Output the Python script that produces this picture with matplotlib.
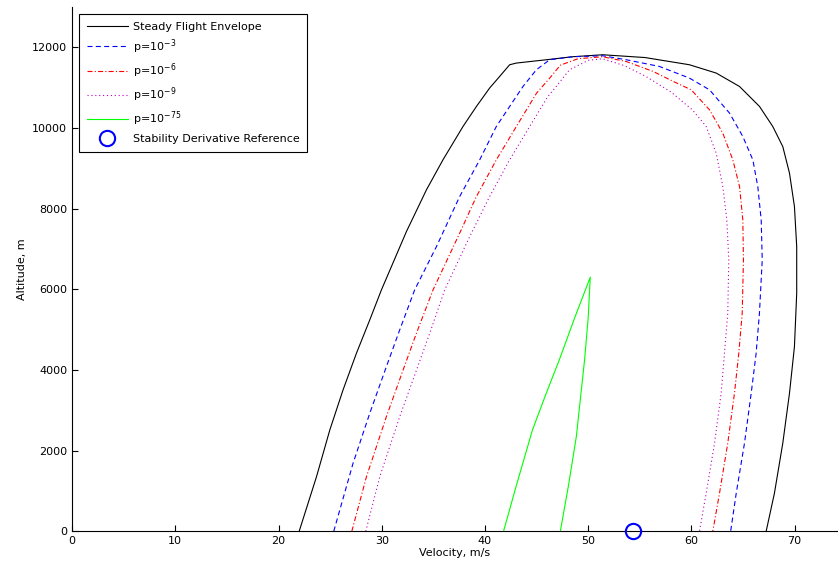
import numpy as np
import matplotlib.pyplot as plt

# Steady flight envelope (velocity m/s, altitude m)
env_v = [22.0, 23.68, 24.97, 26.25, 27.55, 28.84, 29.97, 32.39, 34.33, 35.93, 37.87, 39.17,
         40.45, 41.42, 42.39, 43.04, 45.94, 48.5, 51.4, 55.5, 59.81, 62.4, 64.66, 66.6, 67.88,
         68.85, 69.5, 69.98, 70.2, 70.2, 69.98, 69.5, 68.85, 68.04, 67.24]
env_h = [0, 1355, 2514, 3506, 4417, 5243, 5988, 7434, 8469, 9213, 10040, 10536,
         10993, 11280, 11571, 11613, 11695, 11770, 11819, 11750, 11571, 11365, 11032, 10536, 10040,
         9543, 8884, 8055, 7062, 5906, 4580, 3424, 2184, 943, 0]

# p = 1e-3
p3_v = [25.35, 27.22, 28.84, 30.45, 31.74, 33.19, 35.3, 37.55, 39.49, 41.1, 42.39, 43.68,
        44.98, 46.27, 48.5, 51.4, 53.7, 56.9, 59.81, 61.75, 63.69, 64.98, 65.95, 66.43, 66.76,
        66.86, 66.59, 66.27, 65.79, 65.14, 64.34, 63.8]
p3_h = [0, 1687, 2928, 4084, 4995, 5988, 7062, 8303, 9213, 10040, 10536, 11032,
        11447, 11695, 11770, 11794, 11695, 11529, 11240, 10950, 10372, 9792, 9213, 8551, 7724,
        6732, 5410, 4417, 3424, 2184, 943, 0]

# p = 1e-6
p6_v = [27.1, 28.52, 30.45, 32.06, 33.36, 34.97, 37.55, 39.17, 41.1, 43.04, 45.0, 46.27,
        47.3, 49.0, 51.4, 53.7, 56.3, 58.3, 59.98, 61.75, 63.04, 64.01, 64.66, 64.98, 65.04,
        64.92, 64.59, 64.17, 63.52, 62.72, 62.07]
p6_h = [0, 1355, 2844, 3995, 4913, 5988, 7395, 8303, 9213, 10040, 10868, 11240,
        11560, 11720, 11770, 11650, 11404, 11150, 10950, 10454, 9875, 9213, 8551, 7724, 6732,
        5410, 4417, 3424, 2184, 943, 0]

# p = 1e-9
p9_v = [28.45, 29.81, 31.74, 33.36, 34.65, 36.1, 38.52, 40.45, 42.39, 44.33, 46.1, 46.9,
        48.2, 50.0, 51.4, 53.5, 55.6, 58.0, 60.1, 61.43, 62.4, 63.04, 63.43, 63.62, 63.52,
        63.2, 62.88, 62.24, 61.43, 60.78]
p9_h = [0, 1355, 2844, 3995, 4913, 5988, 7310, 8303, 9213, 10040, 10786, 11032,
        11450, 11680, 11720, 11550, 11280, 10900, 10450, 10040, 9379, 8551, 7724, 6732, 5410,
        4417, 3424, 2184, 943, 0]

# p = 1e-75
p75_v = [41.8, 43.0, 44.6, 45.9, 47.2, 48.7, 50.2, 50.0, 49.65, 48.85, 48.1, 47.3]
p75_h = [0, 1100, 2513, 3400, 4251, 5300, 6303, 5300, 4251, 2347, 1150, 0]

# stability derivative reference point
ref_v = [54.3]
ref_h = [0]

fig = plt.figure(figsize=(8.38, 5.71), dpi=100)
ax = fig.add_axes([0.086, 0.0695, 0.914, 0.918])

lw = 0.8
ax.plot(env_v, env_h, color='k', lw=lw, label='Steady Flight Envelope')
ax.plot(p3_v, p3_h, color='b', lw=lw, dashes=(4.5, 3), label=r'p=10$^{-3}$')
ax.plot(p6_v, p6_h, color='r', lw=lw, dashes=(4.5, 2, 1, 2), label=r'p=10$^{-6}$')
ax.plot(p9_v, p9_h, color='m', lw=lw, dashes=(1, 2.5), label=r'p=10$^{-9}$')
ax.plot(p75_v, p75_h, color=(0, 1, 0), lw=lw, label=r'p=10$^{-75}$')
ax.plot(ref_v, ref_h, 'o', color='b', mfc='none', ms=11, mew=1.5, clip_on=False,
        label='Stability Derivative Reference', zorder=5)

ax.set_xlim(0, 74.2)
ax.set_ylim(0, 13000)
ax.set_xticks(np.arange(0, 71, 10))
ax.set_yticks(np.arange(0, 12001, 2000))
ax.tick_params(direction='in', labelsize=8, length=4)
ax.spines['top'].set_visible(False)
ax.spines['right'].set_visible(False)
ax.set_xlabel('Velocity, m/s', fontsize=8, labelpad=1)
ax.set_ylabel('Altitude, m', fontsize=8, labelpad=4)

leg = ax.legend(loc='upper left', fontsize=8, handlelength=3.7, handletextpad=0.45,
                labelspacing=0.5, borderpad=0.7, fancybox=False, edgecolor='k',
                framealpha=1, borderaxespad=0.6)
leg.get_frame().set_linewidth(0.8)

plt.savefig('out.png', dpi=100)
